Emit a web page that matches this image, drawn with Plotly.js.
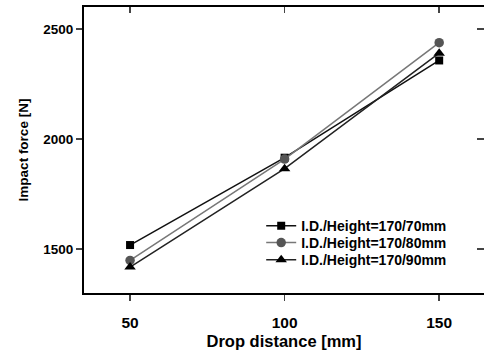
<!DOCTYPE html>
<html>
<head>
<meta charset="utf-8">
<script src="https://cdn.plot.ly/plotly-3.0.1.min.js"></script>
<style>
html,body{margin:0;padding:0;overflow:hidden;background:#fff;}
#chart{width:484px;height:353px;}
</style>
</head>
<body>
<div id="chart"></div>
<script>
const dropDistance = [50, 100, 150];
const force70 = [1518, 1915, 2357];
const force80 = [1448, 1909, 2438];
const force90 = [1418, 1865, 2390];
const seriesNames = ['I.D./Height=170/70mm', 'I.D./Height=170/80mm', 'I.D./Height=170/90mm'];
const xTicks = [50, 100, 150];
const yTicks = [1500, 2000, 2500];

const fam = 'Liberation Sans, Arial, sans-serif';

const traces = [
  {x: dropDistance, y: force70, name: seriesNames[0], mode: 'lines+markers', legend: 'legend',
   line: {color: '#111', width: 1.5}, marker: {symbol: 'square', size: 8, color: '#000'}},
  {x: dropDistance, y: force80, name: seriesNames[1], mode: 'lines+markers', legend: 'legend2',
   line: {color: '#777', width: 1.5}, marker: {symbol: 'circle', size: 9.5, color: '#555'}},
  {x: dropDistance, y: force90, name: seriesNames[2], mode: 'lines+markers', legend: 'legend3',
   line: {color: '#222', width: 1.5}, marker: {symbol: 'triangle-up', size: 10, color: '#000'}},
  {x: [null], y: [null], xaxis: 'x2', yaxis: 'y2', mode: 'none', showlegend: false, hoverinfo: 'skip'}
];

function leg(y) {
  return {x: 0.443, y: y, xanchor: 'left', yanchor: 'middle', bgcolor: 'rgba(0,0,0,0)',
          font: {family: fam, size: 14, color: '#000', weight: 'bold'}, itemwidth: 30};
}

const layout = {
  width: 484, height: 353,
  margin: {l: 84, r: 0, t: 7, b: 60},
  paper_bgcolor: '#fff', plot_bgcolor: '#fff',
  showlegend: true,
  legend: leg(0.234),
  legend2: leg(0.175),
  legend3: leg(0.115),
  xaxis: {range: [35.1, 164.5], tickvals: xTicks, ticks: 'outside', ticklen: 6, tickwidth: 1.5,
          showline: true, linewidth: 2, linecolor: '#000', showgrid: false, zeroline: false,
          ticklabelstandoff: 8,
          tickfont: {family: fam, size: 15.5, color: '#000', weight: 'bold'},
          title: {text: 'Drop distance [mm]', standoff: 6,
                  font: {family: fam, size: 16.5, color: '#000', weight: 'bold'}}},
  yaxis: {range: [1300, 2600], tickvals: yTicks, ticks: 'outside', ticklen: 6, tickwidth: 1.5,
          showline: true, linewidth: 2, linecolor: '#000', showgrid: false, zeroline: false,
          tickfont: {family: fam, size: 13.5, color: '#000', weight: 'bold'},
          title: {text: 'Impact force [N]', standoff: 12,
                  font: {family: fam, size: 13.5, color: '#000', weight: 'bold'}}},
  xaxis2: {range: [35.1, 164.5], tickvals: xTicks, overlaying: 'x', side: 'top', ticks: 'inside',
           ticklen: 6, tickwidth: 1.5, showticklabels: false, showline: true, linewidth: 2,
           linecolor: '#000', showgrid: false, zeroline: false},
  yaxis2: {range: [1300, 2600], tickvals: yTicks, overlaying: 'y', side: 'right', ticks: 'inside',
           ticklen: 7, tickwidth: 1.5, showticklabels: false, showline: false,
           showgrid: false, zeroline: false}
};

Plotly.newPlot('chart', traces, layout, {displayModeBar: false, staticPlot: true});
</script>
</body>
</html>
